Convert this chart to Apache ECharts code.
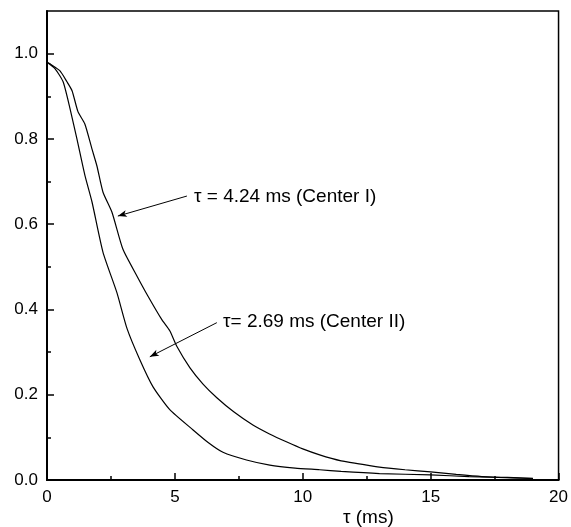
<!DOCTYPE html>
<html>
<head>
<meta charset="utf-8">
<script src="https://cdn.jsdelivr.net/npm/echarts@6/dist/echarts.min.js"></script>
<style>
  html,body{margin:0;padding:0;background:#fff;}
  #chart{width:571px;height:527px;}
</style>
</head>
<body>
<div id="chart"></div>
<script>
// decay curves, [tau (ms), normalised intensity]
var centerI = [
  [0,0.98],[0.12,0.976],[0.5,0.96],[0.78,0.934],[0.98,0.913],[1.21,0.864],[1.48,0.835],
  [1.76,0.776],[1.95,0.737],[2.19,0.675],[2.54,0.628],[2.97,0.541],[3.52,0.478],[3.95,0.431],
  [4.49,0.376],[4.8,0.35],[5.08,0.313],[5.59,0.263],[6.1,0.225],[6.64,0.193],[7.3,0.16],
  [8.05,0.129],[8.7,0.108],[9.38,0.089],[10.0,0.073],[10.66,0.059],[11.5,0.045],[12.2,0.038],
  [13.0,0.03],[14.0,0.024],[15.0,0.019],[16.0,0.013],[17.0,0.008],[18.0,0.006],[19.0,0.004]
];
var centerII = [
  [0,0.98],[0.31,0.965],[0.63,0.934],[0.9,0.871],[1.17,0.80],[1.48,0.715],[1.76,0.652],
  [2.19,0.534],[2.73,0.44],[3.13,0.355],[3.63,0.282],[4.14,0.219],[4.8,0.165],[5.7,0.118],
  [6.3,0.088],[6.88,0.065],[7.8,0.047],[8.71,0.035],[9.7,0.028],[10.66,0.024],[11.5,0.02],
  [13.0,0.015],[15.0,0.012],[16.5,0.008],[18.2,0.005],[19.0,0.003]
];
var yTicks = [0,0.2,0.4,0.6,0.8,1.0];
var yMinor = [0.1,0.3,0.5,0.7,0.9];
var labelI = 'τ = 4.24 ms (Center I)';
var labelII = 'τ= 2.69 ms (Center II)';
var arrowI = [[5.47,0.666],[2.77,0.619]];
var arrowII = [[6.64,0.369],[4.02,0.289]];

var font = 'Liberation Sans, Arial, sans-serif';
var myChart = echarts.init(document.getElementById('chart'));

function arrow(pts){
  return {
    silent:true,
    symbolSize:[5,9],
    lineStyle:{color:'#000',width:1,type:'solid'},
    label:{show:false},
    data:[[{coord:pts[0],symbol:'none'},{coord:pts[1],symbol:'arrow'}]]
  };
}

var option = {
  animation:false,
  backgroundColor:'#fff',
  grid:{left:47,right:12,top:11,bottom:47,show:true,borderColor:'#000',borderWidth:1.5},
  xAxis:{
    type:'value',min:0,max:20,interval:5,
    axisLine:{lineStyle:{color:'#000',width:2}},
    axisTick:{inside:true,length:7,lineStyle:{color:'#000',width:1.5}},
    minorTick:{show:true,splitNumber:2,length:4,lineStyle:{color:'#000',width:1.5}},
    splitLine:{show:false},
    axisLabel:{color:'#000',fontSize:17,fontFamily:font,margin:9}
  },
  yAxis:[{
    type:'value',min:0,max:1.1,
    axisLine:{lineStyle:{color:'#000',width:2}},
    axisTick:{inside:true,length:7,customValues:yTicks,lineStyle:{color:'#000',width:1.5}},
    splitLine:{show:false},
    axisLabel:{color:'#000',fontSize:17,fontFamily:font,margin:9,customValues:yTicks,
      formatter:function(v){return v.toFixed(1);}}
  },{
    type:'value',min:0,max:1.1,position:'left',
    axisLine:{show:false},
    axisTick:{inside:true,length:4,customValues:yMinor,lineStyle:{color:'#000',width:1.5}},
    splitLine:{show:false},
    axisLabel:{show:false}
  }],
  graphic:[
    {type:'text',left:194,top:187,style:{text:labelI,font:'19px '+font,fill:'#000'}},
    {type:'text',left:223,top:312,style:{text:labelII,font:'19px '+font,fill:'#000'}},
    {type:'text',left:343,top:508,style:{text:'τ (ms)',font:'19px '+font,fill:'#000'}}
  ],
  series:[{
    name:'Center I',type:'line',data:centerI,showSymbol:false,smooth:0.2,
    lineStyle:{color:'#000',width:1.2},markLine:arrow(arrowI)
  },{
    name:'Center II',type:'line',data:centerII,showSymbol:false,smooth:0.2,
    lineStyle:{color:'#000',width:1.2},markLine:arrow(arrowII)
  }]
};
myChart.setOption(option);
</script>
</body>
</html>
